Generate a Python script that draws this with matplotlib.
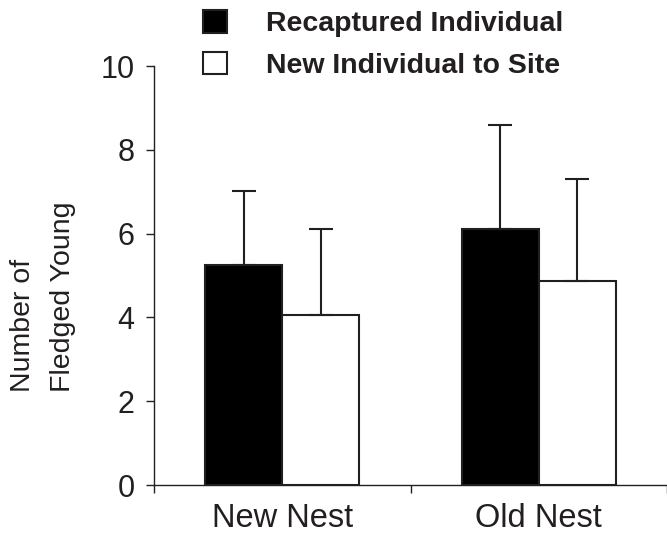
import numpy as np
import matplotlib
matplotlib.use("Agg")
import matplotlib.pyplot as plt

plt.rcParams['font.family'] = ['Liberation Sans', 'DejaVu Sans']

# data
nests = ['New Nest', 'Old Nest']
recaptured = [5.25, 6.12]
recaptured_sd = [1.78, 2.47]
new_ind = [4.06, 4.87]
new_ind_sd = [2.05, 2.43]

ink = '#231f20'
x = np.arange(len(nests))
w = 0.3

fig = plt.figure(figsize=(6.67, 5.33), dpi=100)
ax = fig.add_axes([0.231, 0.09, 0.769, 0.786])

err_kw = dict(ecolor=ink, elinewidth=1.5, capsize=8.5, capthick=1.5)
b1 = ax.bar(x - w / 2, recaptured, w, color='black', edgecolor=ink, linewidth=1.5,
            yerr=[np.zeros(2), recaptured_sd], error_kw=err_kw,
            label='Recaptured Individual', zorder=2)
b2 = ax.bar(x + w / 2, new_ind, w, color='white', edgecolor=ink, linewidth=1.5,
            yerr=[np.zeros(2), new_ind_sd], error_kw=err_kw,
            label='New Individual to Site', zorder=2)

ax.set_xlim(-0.5, 1.485)
ax.set_ylim(0, 10)
ax.set_yticks([0, 2, 4, 6, 8, 10])
ax.set_xticks(x)
ax.set_xticklabels(nests)
ax.set_xticks([-0.5, 0.5, 1.5], minor=True)

for s in ['top', 'right']:
    ax.spines[s].set_visible(False)
for s in ['left', 'bottom']:
    ax.spines[s].set_color(ink)
    ax.spines[s].set_linewidth(1.0)

ax.tick_params(axis='y', direction='out', length=6, width=1.0, color=ink,
               labelsize=22, pad=8, labelcolor=ink)
ax.tick_params(axis='x', which='major', length=0, labelsize=23.5, pad=13, labelcolor=ink)
ax.tick_params(axis='x', which='minor', direction='out', length=6, width=1.0, color=ink)

ax.set_ylabel('Number of\nFledged Young', fontsize=20.5, color=ink, linespacing=1.7,
              multialignment='left')
ax.yaxis.set_label_coords(-0.153, 0.45)

leg = fig.legend(handles=[b1, b2], loc='upper left', bbox_to_anchor=(0.266, 1.029),
                 frameon=False, handlelength=0.85, handleheight=0.85,
                 handletextpad=1.35, labelspacing=0.5,
                 prop={'weight': 'bold', 'size': 20.5})
for t in leg.get_texts():
    t.set_color(ink)

fig.savefig('out.png', dpi=100)
